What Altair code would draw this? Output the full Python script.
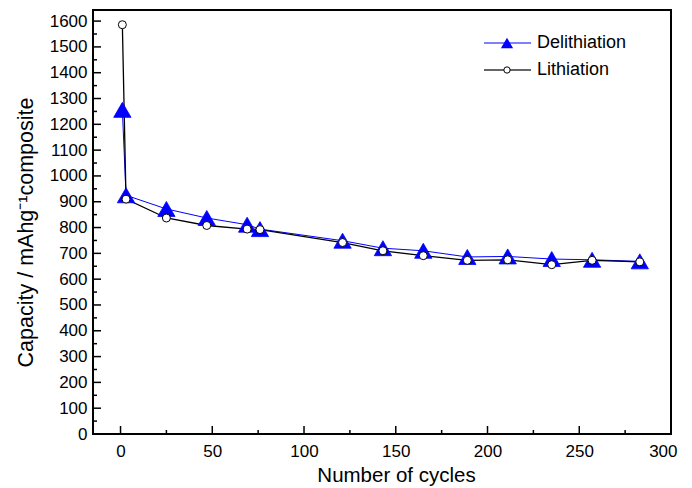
import altair as alt
import pandas as pd

# ---- data ----
cycles = [1, 3, 25, 47, 69, 76, 121, 143, 165, 189, 211, 235, 257, 283]
delithiation = [1256, 925, 872, 837, 811, 794, 749, 720, 710, 686, 688, 678, 675, 669]
lithiation = [1586, 910, 837, 808, 794, 792, 742, 710, 691, 673, 675, 656, 673, 667]

x_major = [0, 50, 100, 150, 200, 250, 300]
x_minor = [25, 75, 125, 175, 225, 275]
y_major = list(range(0, 1601, 100))
y_minor = list(range(50, 1601, 100))

series_names = ["Delithiation", "Lithiation"]
x_title = "Number of cycles"
y_title = "Capacity / mAhg\u207b\u00b9composite"

FONT = "Liberation Sans"
W, H = 578, 424
BLUE = "#0000ff"

df_d = pd.DataFrame({"cycle": cycles, "capacity": delithiation})
df_l = pd.DataFrame({"cycle": cycles, "capacity": lithiation})

xs = alt.Scale(domain=[-15, 300], nice=False, zero=False)
ys = alt.Scale(domain=[0, 1643], nice=False, zero=False)

x_axis = alt.Axis(
    values=x_major, format="d", ticks=False, tickSize=0, domain=False, grid=False,
    labelFont=FONT, labelFontSize=17, labelColor="black", labelPadding=9,
    labelFlush=True, labelFlushOffset=6,
    title=x_title, titleFont=FONT, titleFontSize=20.5, titleFontWeight="normal",
    titleColor="black", titleX=303, titleY=47, titleBaseline="alphabetic",
    titleAlign="center",
)
y_axis = alt.Axis(
    values=y_major, format="d", ticks=False, tickSize=0, domain=False, grid=False,
    labelFont=FONT, labelFontSize=17, labelColor="black", labelPadding=6,
    title=y_title, titleFont=FONT, titleFontSize=21.5, titleFontWeight="normal",
    titleColor="black", titleAngle=270, titleX=-67, titleY=222,
    titleBaseline="middle", titleAlign="center",
)


def X(field):
    return alt.X(field, scale=xs, axis=x_axis)


def Y(field):
    return alt.Y(field, scale=ys, axis=y_axis)


line_d = alt.Chart(df_d).mark_line(color=BLUE, strokeWidth=1).encode(
    x=X("cycle:Q"), y=Y("capacity:Q"))
line_l = alt.Chart(df_l).mark_line(color="black", strokeWidth=1.3).encode(
    x=X("cycle:Q"), y=Y("capacity:Q"))
pts_d = alt.Chart(df_d).mark_point(
    shape="triangle-up", filled=True, color=BLUE, size=300, opacity=1,
    stroke=BLUE, strokeWidth=0.8,
).encode(x=X("cycle:Q"), y=Y("capacity:Q"))
pts_l = alt.Chart(df_l).mark_point(
    shape="circle", filled=True, fill="white", stroke="black", strokeWidth=1,
    size=64, opacity=1,
).encode(x=X("cycle:Q"), y=Y("capacity:Q"))

# ---- inward ticks ----
xt_major = alt.Chart(pd.DataFrame({"cycle": x_major})).mark_rule(color="black", strokeWidth=1.5).encode(
    x=X("cycle:Q"), y=alt.value(H), y2=alt.value(H - 8))
xt_minor = alt.Chart(pd.DataFrame({"cycle": x_minor})).mark_rule(color="black", strokeWidth=1.5).encode(
    x=X("cycle:Q"), y=alt.value(H), y2=alt.value(H - 4))
yt_major = alt.Chart(pd.DataFrame({"capacity": y_major})).mark_rule(color="black", strokeWidth=1.5).encode(
    y=Y("capacity:Q"), x=alt.value(0), x2=alt.value(8))
yt_minor = alt.Chart(pd.DataFrame({"capacity": y_minor})).mark_rule(color="black", strokeWidth=1.5).encode(
    y=Y("capacity:Q"), x=alt.value(0), x2=alt.value(4))

# ---- legend ----
one = pd.DataFrame({"k": [0]})
LX1, LX2, LXM, LTX = 391, 438, 414, 444
LY1, LY2 = 33, 60
leg = [
    alt.Chart(one).mark_rule(color=BLUE, strokeWidth=1).encode(
        x=alt.value(LX1), x2=alt.value(LX2), y=alt.value(LY1)),
    alt.Chart(one).mark_point(shape="triangle-up", filled=True, color=BLUE, size=150, opacity=1).encode(
        x=alt.value(LXM), y=alt.value(LY1)),
    alt.Chart(one).mark_text(text=series_names[0], font=FONT, fontSize=18, align="left",
                             baseline="middle", color="black").encode(
        x=alt.value(LTX), y=alt.value(LY1)),
    alt.Chart(one).mark_rule(color="#333333", strokeWidth=1.3).encode(
        x=alt.value(LX1), x2=alt.value(LX2), y=alt.value(LY2)),
    alt.Chart(one).mark_point(shape="circle", filled=True, fill="white", stroke="black",
                              strokeWidth=1, size=40, opacity=1).encode(
        x=alt.value(LXM), y=alt.value(LY2)),
    alt.Chart(one).mark_text(text=series_names[1], font=FONT, fontSize=18, align="left",
                             baseline="middle", color="black").encode(
        x=alt.value(LTX), y=alt.value(LY2)),
]

chart = alt.layer(
    line_d, line_l, xt_major, xt_minor, yt_major, yt_minor, pts_d, pts_l, *leg
).properties(
    width=W, height=H,
    padding={"left": 93, "top": 10, "right": 21, "bottom": 54},
    autosize=alt.AutoSizeParams(type="none"),
    background="white",
).configure_view(stroke="black", strokeWidth=2)

chart.save("out.html", embed_options={"renderer": "svg", "actions": False})
